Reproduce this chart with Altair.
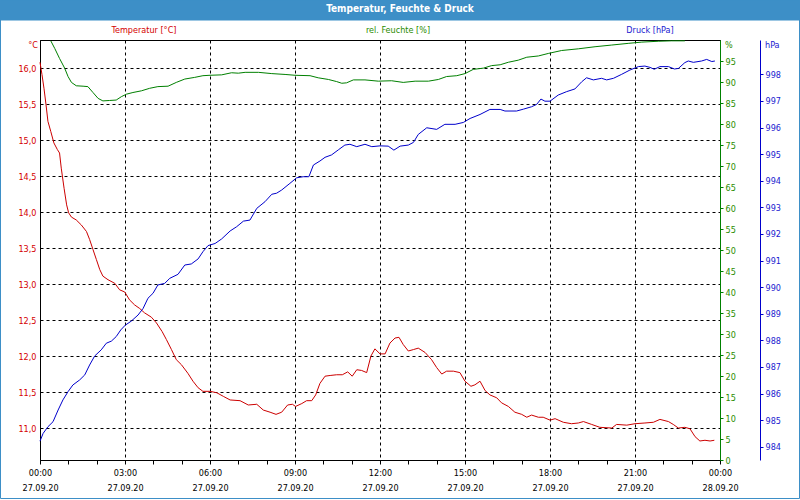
import altair as alt
import pandas as pd

# ---- data: (hour since 27.09.20 00:00, value) ----
temp_pts = [
    (0.00, 16.08), (0.07, 15.91), (0.14, 15.72), (0.21, 15.50), (0.28, 15.26), (0.38, 15.12),
    (0.49, 14.96), (0.61, 14.87), (0.69, 14.82), (0.75, 14.61), (0.85, 14.33), (0.94, 14.10),
    (1.01, 13.99), (1.11, 13.93), (1.28, 13.89), (1.46, 13.82), (1.64, 13.73), (1.75, 13.62),
    (1.87, 13.48), (1.99, 13.34), (2.11, 13.20), (2.22, 13.11), (2.40, 13.06), (2.64, 13.01),
    (2.81, 12.92), (2.99, 12.89), (3.16, 12.78), (3.34, 12.71), (3.52, 12.66), (3.69, 12.60),
    (3.93, 12.54), (4.11, 12.46), (4.31, 12.34), (4.46, 12.23), (4.64, 12.09), (4.81, 11.95),
    (4.99, 11.88), (5.22, 11.76), (5.40, 11.65), (5.58, 11.56), (5.75, 11.51), (6.00, 11.51),
    (6.24, 11.49), (6.47, 11.44), (6.71, 11.39), (7.06, 11.38), (7.35, 11.32), (7.65, 11.33),
    (7.88, 11.25), (8.12, 11.22), (8.33, 11.19), (8.53, 11.22), (8.74, 11.32), (8.91, 11.33),
    (9.02, 11.30), (9.24, 11.34), (9.41, 11.38), (9.59, 11.38), (9.73, 11.46), (9.88, 11.62),
    (10.06, 11.72), (10.24, 11.73), (10.47, 11.74), (10.67, 11.74), (10.86, 11.78), (11.02, 11.72),
    (11.18, 11.81), (11.35, 11.80), (11.53, 11.77), (11.68, 12.00), (11.82, 12.10), (12.00, 12.03),
    (12.18, 12.03), (12.35, 12.18), (12.53, 12.25), (12.67, 12.26), (12.82, 12.16), (13.00, 12.07),
    (13.18, 12.09), (13.35, 12.11), (13.59, 12.05), (13.82, 11.95), (14.00, 11.84), (14.18, 11.75),
    (14.35, 11.79), (14.59, 11.79), (14.82, 11.77), (15.00, 11.65), (15.21, 11.58), (15.35, 11.60),
    (15.53, 11.65), (15.71, 11.52), (15.88, 11.46), (16.12, 11.42), (16.29, 11.35), (16.53, 11.30),
    (16.76, 11.22), (17.00, 11.19), (17.18, 11.15), (17.35, 11.18), (17.59, 11.15), (17.76, 11.15),
    (18.00, 11.11), (18.18, 11.13), (18.47, 11.08), (18.76, 11.06), (19.00, 11.07), (19.18, 11.09),
    (19.47, 11.05), (19.76, 11.01), (20.18, 11.00), (20.35, 11.05), (20.71, 11.04), (21.00, 11.06),
    (21.35, 11.07), (21.65, 11.08), (21.88, 11.12), (22.18, 11.09), (22.35, 11.05), (22.53, 11.00),
    (22.76, 11.01), (22.94, 10.99), (23.12, 10.88), (23.29, 10.82), (23.47, 10.83), (23.65, 10.82),
    (23.80, 10.83),
]

humid_pts = [
    (0.38, 99.8), (0.52, 98.0), (0.69, 95.6), (0.87, 93.3), (0.99, 91.3), (1.11, 89.9),
    (1.28, 89.1), (1.52, 89.0), (1.69, 88.9), (1.87, 87.5), (2.05, 86.1), (2.22, 85.5),
    (2.46, 85.6), (2.69, 85.7), (2.87, 86.5), (3.05, 87.1), (3.28, 87.5), (3.58, 87.9),
    (3.87, 88.5), (4.16, 88.9), (4.52, 89.0), (4.81, 89.9), (5.11, 90.7), (5.46, 91.1),
    (5.75, 91.5), (6.00, 91.6), (6.41, 91.7), (6.76, 92.2), (7.00, 92.1), (7.24, 92.3),
    (7.71, 92.3), (8.18, 92.0), (8.65, 91.8), (9.00, 91.6), (9.53, 91.5), (9.82, 91.0),
    (10.18, 90.6), (10.47, 90.1), (10.65, 89.7), (10.82, 89.8), (11.06, 90.5), (11.47, 90.5),
    (11.94, 90.2), (12.41, 90.3), (12.82, 89.9), (13.24, 90.2), (13.71, 90.2), (14.06, 90.6),
    (14.35, 91.3), (14.71, 91.5), (15.00, 92.0), (15.29, 93.0), (15.65, 93.3), (15.94, 93.9),
    (16.24, 94.1), (16.53, 94.7), (16.88, 95.2), (17.18, 95.9), (17.59, 96.2), (17.94, 96.8),
    (18.41, 97.5), (19.00, 97.9), (19.59, 98.4), (20.18, 98.8), (20.76, 99.2), (21.24, 99.5),
    (21.82, 99.7), (22.29, 99.8), (22.76, 99.8),
]

pres_pts = [
    (0.00, 984.21), (0.11, 984.50), (0.28, 984.75), (0.46, 984.94), (0.64, 985.38), (0.81, 985.76),
    (0.99, 986.07), (1.16, 986.32), (1.40, 986.51), (1.58, 986.70), (1.75, 987.07), (1.93, 987.41),
    (2.16, 987.64), (2.34, 987.89), (2.52, 987.97), (2.69, 988.14), (2.85, 988.39), (3.01, 988.57),
    (3.22, 988.72), (3.46, 988.95), (3.64, 989.20), (3.81, 989.58), (3.99, 989.77), (4.16, 990.08),
    (4.40, 990.14), (4.58, 990.33), (4.87, 990.48), (5.11, 990.83), (5.34, 990.87), (5.58, 991.06),
    (5.75, 991.33), (5.93, 991.56), (6.18, 991.64), (6.41, 991.81), (6.71, 992.11), (6.94, 992.27),
    (7.18, 992.48), (7.41, 992.52), (7.65, 992.96), (7.94, 993.21), (8.18, 993.49), (8.35, 993.53),
    (8.53, 993.65), (8.82, 993.90), (9.06, 994.11), (9.29, 994.15), (9.49, 994.15), (9.65, 994.59),
    (9.88, 994.74), (10.06, 994.88), (10.29, 994.97), (10.53, 995.16), (10.76, 995.34), (10.94, 995.37),
    (11.18, 995.28), (11.47, 995.37), (11.71, 995.28), (12.00, 995.31), (12.29, 995.30), (12.49, 995.15),
    (12.71, 995.30), (13.00, 995.34), (13.18, 995.44), (13.35, 995.74), (13.65, 995.99), (14.00, 995.93),
    (14.29, 996.12), (14.65, 996.12), (14.94, 996.19), (15.18, 996.34), (15.53, 996.49), (15.88, 996.68),
    (16.24, 996.68), (16.41, 996.62), (16.82, 996.62), (17.06, 996.69), (17.35, 996.78), (17.53, 996.87),
    (17.68, 997.07), (17.82, 996.99), (18.00, 996.99), (18.29, 997.22), (18.59, 997.35), (18.88, 997.45),
    (19.12, 997.72), (19.29, 997.87), (19.53, 997.79), (19.82, 997.85), (20.00, 997.79), (20.24, 997.85),
    (20.53, 998.00), (20.82, 998.16), (21.12, 998.29), (21.35, 998.31), (21.53, 998.26), (21.68, 998.19),
    (21.88, 998.29), (22.18, 998.29), (22.39, 998.20), (22.53, 998.22), (22.76, 998.44), (22.88, 998.50),
    (23.06, 998.45), (23.35, 998.50), (23.53, 998.56), (23.71, 998.48), (23.82, 998.50),
]

temp_ticks = [11.0, 11.5, 12.0, 12.5, 13.0, 13.5, 14.0, 14.5, 15.0, 15.5, 16.0]
humid_ticks = list(range(0, 100, 5))
pres_ticks = list(range(984, 999))
hour_ticks = list(range(0, 25))

TITLE = "Temperatur, Feuchte & Druck"
HEADERS = ["Temperatur [°C]", "rel. Feuchte [%]", "Druck [hPa]"]

# ---- styling ----
FONT = "DejaVu Sans Condensed, DejaVu Sans"
FS = 9
RED, GREEN, BLUE = "#cc0000", "#008000", "#0000cc"
RED_T, GREEN_T, BLUE_T = "#d40000", "#2a8c00", "#1a1ad0"
BAR = "#3d8fc7"
W, H = 680, 420

df_t = pd.DataFrame(temp_pts, columns=["h", "v"])
df_h = pd.DataFrame(humid_pts, columns=["h", "v"])
df_p = pd.DataFrame(pres_pts, columns=["h", "v"])
one = pd.DataFrame({"a": [0]})

xscale = alt.Scale(domain=[0, 24], nice=False, zero=False)

x_axis = alt.Axis(
    values=hour_ticks, title=None, grid=True,
    gridColor="black", gridDash=[3, 3], gridWidth=1,
    gridOpacity={"condition": {"test": "datum.value % 3 === 0", "value": 1}, "value": 0},
    labelExpr="datum.value % 3 === 0 ? [((datum.value % 24) < 10 ? '0' : '') + (datum.value % 24) + ':00', datum.value === 24 ? '28.09.20' : '27.09.20'] : ''",
    labelFlush=False, labelOverlap=False, labelFont=FONT, labelFontSize=FS,
    labelColor="black", labelPadding=4, labelLineHeight=15.5,
    tickSize=4, tickColor="black", domainColor="black",
)
x_enc = alt.X("h:Q", scale=xscale, axis=x_axis)

temp = alt.Chart(df_t).mark_line(color=RED, strokeWidth=1).encode(
    x=x_enc,
    y=alt.Y("v:Q", scale=alt.Scale(domain=[10.556, 16.39], nice=False, zero=False),
            axis=alt.Axis(orient="left", values=temp_ticks, title=None, grid=True,
                          gridColor="black", gridDash=[3, 3], gridWidth=1,
                          tickSize=0, labelPadding=4, labelColor=RED_T, labelFont=FONT,
                          labelFontSize=FS, domainColor="black",
                          labelExpr="replace(format(datum.value, '.1f'), '.', ',')")),
)

humid = alt.Chart(df_h).mark_line(color=GREEN, strokeWidth=1).encode(
    x=x_enc,
    y=alt.Y("v:Q", scale=alt.Scale(domain=[0, 100], nice=False, zero=False),
            axis=alt.Axis(orient="right", values=humid_ticks, title=None, grid=False,
                          tickSize=3, tickColor=GREEN, domainColor=GREEN, labelPadding=2,
                          labelColor=GREEN_T, labelFont=FONT, labelFontSize=FS)),
)

pres = alt.Chart(df_p).mark_line(color=BLUE, strokeWidth=1).encode(
    x=x_enc,
    y=alt.Y("v:Q", scale=alt.Scale(domain=[983.5, 999.29], nice=False, zero=False),
            axis=alt.Axis(orient="right", offset=40, values=pres_ticks, title=None, grid=False,
                          tickSize=3, tickColor=BLUE, domainColor=BLUE, labelPadding=2,
                          labelColor=BLUE_T, labelFont=FONT, labelFontSize=FS, format="d")),
)

# ---- decorations (title bar, frame, unit labels) ----
bar = alt.Chart(one).mark_rect(color=BAR).encode(
    x=alt.value(-40), x2=alt.value(760), y=alt.value(-40), y2=alt.value(-19.5))
frame = alt.Chart(one).mark_rect(fill=None, stroke=BAR, strokeWidth=1).encode(
    x=alt.value(-39.5), x2=alt.value(759.5), y=alt.value(-40), y2=alt.value(458.5))
title = alt.Chart(one).mark_text(text=TITLE, color="white", font=FONT, fontSize=10,
                                 fontWeight="bold", baseline="middle", align="center").encode(
    x=alt.value(360), y=alt.value(-31.5))

def label(txt, x, y, color, align="center"):
    return alt.Chart(one).mark_text(text=txt, color=color, font=FONT, fontSize=FS,
                                    baseline="middle", align=align).encode(
        x=alt.value(x), y=alt.value(y))

texts = [
    label(HEADERS[0], 104, -10, RED_T),
    label(HEADERS[1], 358, -10, GREEN_T),
    label(HEADERS[2], 610, -10, BLUE_T),
    label("°C", -2, 4.5, RED_T, "right"),
    label("%", 685, 4.5, GREEN_T, "left"),
    label("hPa", 725, 4.5, BLUE_T, "left"),
]

chart = alt.layer(temp, humid, pres, bar, frame, title, *texts).resolve_scale(
    y="independent"
).properties(
    width=W, height=H,
    autosize=alt.AutoSizeParams(type="none"),
    padding={"left": 40, "top": 40, "right": 80, "bottom": 40},
    background="white",
).configure_view(stroke="black", strokeWidth=1)

chart.save("out.html", embed_options={"renderer": "svg", "actions": False})
